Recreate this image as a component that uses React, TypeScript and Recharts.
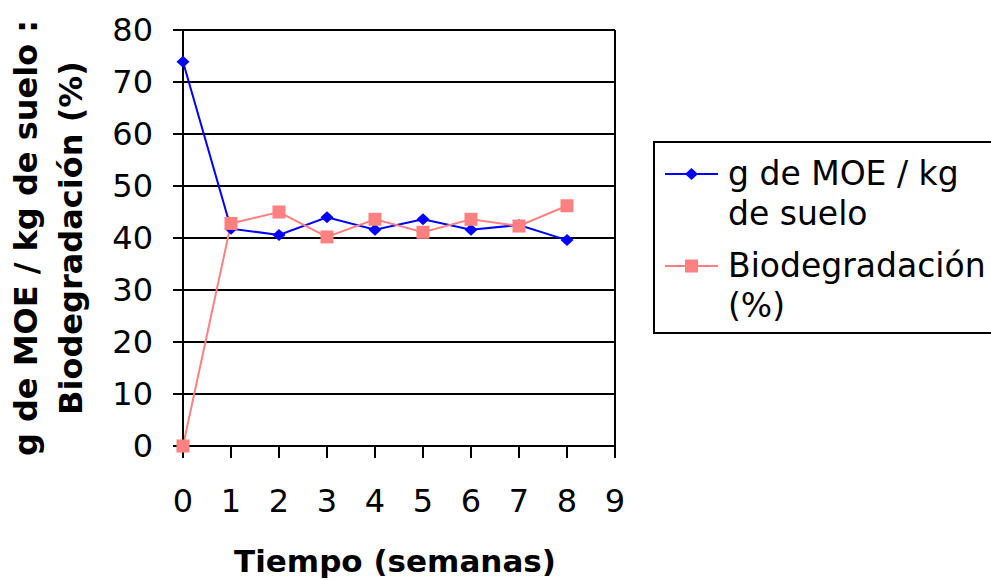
import { CartesianGrid, Line, LineChart, ReferenceLine, XAxis, YAxis } from "recharts";

// semanas 0..8, valores
const weeks = [0, 1, 2, 3, 4, 5, 6, 7, 8];
const moe = [73.9, 41.8, 40.6, 44.0, 41.6, 43.6, 41.6, 42.5, 39.6];
const bio = [0, 42.8, 45.0, 40.2, 43.6, 41.1, 43.6, 42.3, 46.2];

const xTicks = [0, 1, 2, 3, 4, 5, 6, 7, 8, 9];
const yTicks = [0, 10, 20, 30, 40, 50, 60, 70, 80];

const moeName = ["g de MOE / kg", "de suelo"];
const bioName = ["Biodegradación", "(%)"];
const yTitle = ["g de MOE / kg de suelo :", "Biodegradación (%)"];
const xTitle = "Tiempo (semanas)";

const data = weeks.map((w, i) => ({ week: w, moe: moe[i], bio: bio[i] }));

const FONT = "'DejaVu Sans', sans-serif";
const BLUE = "#0000FF";
const PINK = "#FF8080";

const tickStyle = { fontFamily: FONT, fontSize: 32, fill: "#000" };

function Diamond({ cx, cy, index }: any) {
  if (cx == null || cy == null) return null;
  return (
    <path
      key={`d-${index}`}
      d={`M${cx},${cy - 6} L${cx + 6.5},${cy} L${cx},${cy + 6} L${cx - 6.5},${cy} Z`}
      fill={BLUE}
    />
  );
}

function Square({ cx, cy, index }: any) {
  if (cx == null || cy == null) return null;
  return <rect key={`s-${index}`} x={cx - 6.5} y={cy - 6.5} width={13} height={13} fill={PINK} />;
}

function YTitle({ viewBox }: any) {
  const cy = viewBox.y + viewBox.height / 2;
  const xs = [37, 82];
  return (
    <g>
      {yTitle.map((t, i) => (
        <text
          key={t}
          x={xs[i]}
          y={cy}
          transform={`rotate(-90, ${xs[i]}, ${cy})`}
          textAnchor="middle"
          fontFamily={FONT}
          fontWeight="bold"
          fontSize={32}
          fill="#000"
        >
          {t}
        </text>
      ))}
    </g>
  );
}

function XTitle() {
  return (
    <text x={395} y={572} textAnchor="middle" fontFamily={FONT} fontWeight="bold" fontSize={31} fill="#000">
      {xTitle}
    </text>
  );
}

function LegendItem({ color, lines, square }: { color: string; lines: string[]; square?: boolean }) {
  return (
    <div style={{ display: "flex", alignItems: "flex-start" }}>
      <svg width={53} height={40} style={{ flex: "none", marginRight: 10 }}>
        <line x1={0} y1={20} x2={53} y2={20} stroke={color} strokeWidth={2} />
        {square ? (
          <rect x={20} y={13.5} width={13} height={13} fill={color} />
        ) : (
          <path d="M26.5,14 L33,20 L26.5,26 L20,20 Z" fill={color} />
        )}
      </svg>
      <div style={{ lineHeight: "40px", fontSize: 33, fontFamily: FONT, whiteSpace: "nowrap" }}>
        {lines.map((l) => (
          <div key={l}>{l}</div>
        ))}
      </div>
    </div>
  );
}

export default function App() {
  return (
    <div
      style={{
        position: "absolute",
        left: 0,
        top: 0,
        width: 991,
        height: 580,
        overflow: "hidden",
        background: "#fff",
      }}
    >
      <LineChart width={991} height={580} data={data} margin={{ top: 30, right: 376, left: 0, bottom: 0 }}>
        <CartesianGrid horizontal vertical={false} stroke="#000" strokeWidth={2} />
        <XAxis
          dataKey="week"
          type="number"
          domain={[0, 9]}
          ticks={xTicks}
          interval={0}
          height={134}
          tickSize={12}
          tickMargin={31}
          tick={tickStyle}
          axisLine={{ stroke: "#000", strokeWidth: 2 }}
          tickLine={{ stroke: "#000", strokeWidth: 2 }}
          label={<XTitle />}
        />
        <YAxis
          type="number"
          domain={[0, 80]}
          ticks={yTicks}
          interval={0}
          width={183}
          tickSize={10}
          tickMargin={20}
          tick={tickStyle}
          axisLine={{ stroke: "#000", strokeWidth: 2 }}
          tickLine={{ stroke: "#000", strokeWidth: 2 }}
          label={<YTitle />}
        />
        <ReferenceLine x={9} stroke="#000" strokeWidth={2} />
        <Line
          dataKey="moe"
          type="linear"
          stroke={BLUE}
          strokeWidth={2}
          dot={(p: any) => <Diamond {...p} />}
          isAnimationActive={false}
        />
        <Line
          dataKey="bio"
          type="linear"
          stroke={PINK}
          strokeWidth={2}
          dot={(p: any) => <Square {...p} />}
          isAnimationActive={false}
        />
      </LineChart>
      <div
        style={{
          position: "absolute",
          left: 653,
          top: 141,
          width: 360,
          height: 193,
          boxSizing: "border-box",
          border: "2px solid #000",
          padding: "11px 0 0 10px",
          background: "#fff",
        }}
      >
        <LegendItem color={BLUE} lines={moeName} />
        <div style={{ height: 12 }} />
        <LegendItem color={PINK} lines={bioName} square />
      </div>
    </div>
  );
}
